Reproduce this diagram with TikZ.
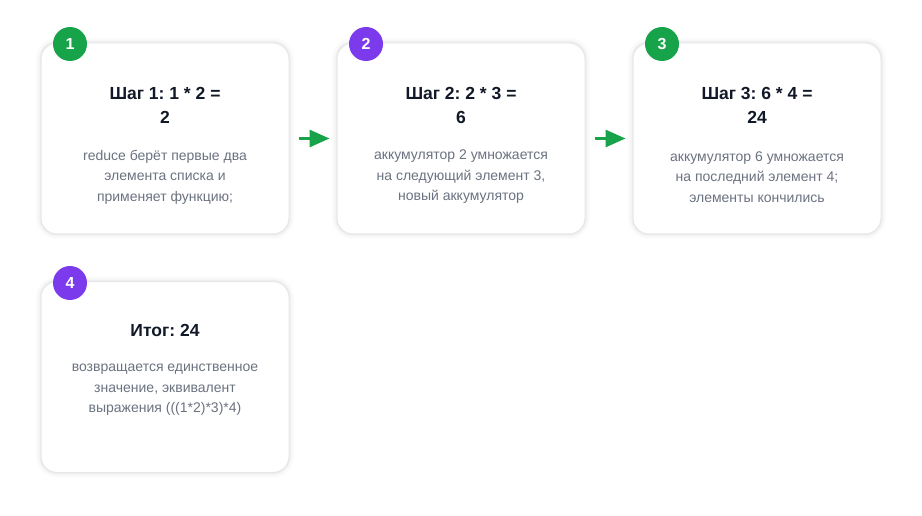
\documentclass[tikz,border=0pt]{standalone}
\usepackage{fontspec}
\setmainfont{Liberation Sans}
\usetikzlibrary{arrows.meta}
\frenchspacing
\definecolor{cardborder}{HTML}{E5E7EB}
\definecolor{titlecol}{HTML}{111827}
\definecolor{desccol}{HTML}{6B7280}
\definecolor{badgegreen}{HTML}{16A34A}
\definecolor{badgepurple}{HTML}{7C3AED}
\definecolor{arrowgreen}{HTML}{16A34A}
\tikzset{
  card/.style={draw=cardborder, line width=1pt, fill=white, rounded corners=16pt,
    minimum width=248pt, minimum height=191pt, inner sep=0pt,
    preaction={draw=black, draw opacity=0.015, line width=10pt},
    preaction={draw=black, draw opacity=0.02, line width=6pt},
    preaction={draw=black, draw opacity=0.03, line width=3pt}},
  badge/.style={circle, minimum size=34pt, inner sep=0pt, text=white,
    font=\bfseries\fontsize{16}{18}\selectfont},
  steptitle/.style={align=center, text=titlecol, inner sep=0pt,
    font=\bfseries\fontsize{17.5}{24}\selectfont},
  stepdesc/.style={align=center, text=desccol, inner sep=0pt,
    font=\fontsize{14}{20.5}\selectfont},
  flow/.style={draw=arrowgreen, line width=3pt, -{Triangle[length=20pt,width=17pt]}}
}
\begin{document}
\frenchspacing
\begin{tikzpicture}[x=1pt,y=-1pt]
\path[use as bounding box, fill=white] (0,0) rectangle (922,516);

\node[card] (c1) at (165,138.5) {};
\node[card] (c2) at (461,138.5) {};
\node[card] (c3) at (757,138.5) {};
\node[card] (c4) at (165,377) {};

\node[badge, fill=badgegreen] (b1) at (70,44) {1};
\node[badge, fill=badgepurple] (b2) at (366,44) {2};
\node[badge, fill=badgegreen] (b3) at (662,44) {3};
\node[badge, fill=badgepurple] (b4) at (70,283) {4};

\node[steptitle] (t1) at (165,105) {Шаг 1: 1 * 2 =\\2};
\node[steptitle] (t2) at (461,105) {Шаг 2: 2 * 3 =\\6};
\node[steptitle] (t3) at (757,105) {Шаг 3: 6 * 4 =\\24};
\node[steptitle] (t4) at (165,330) {Итог: 24};

\node[stepdesc] (d1) at (165,177) {reduce берёт первые два\\элемента списка и\\применяет функцию;};
\node[stepdesc] (d2) at (461,177) {аккумулятор 2 умножается\\на следующий элемент 3,\\новый аккумулятор};
\node[stepdesc] (d3) at (757,177) {аккумулятор 6 умножается\\на последний элемент 4;\\элементы кончились};
\node[stepdesc] (d4) at (165,390) {возвращается единственное\\значение, эквивалент\\выражения (((1*2)*3)*4)};

\draw[flow, shorten <=9pt, shorten >=7pt] (c1.east) -- (c2.west);
\draw[flow, shorten <=9pt, shorten >=7pt] (c2.east) -- (c3.west);
\end{tikzpicture}
\end{document}
